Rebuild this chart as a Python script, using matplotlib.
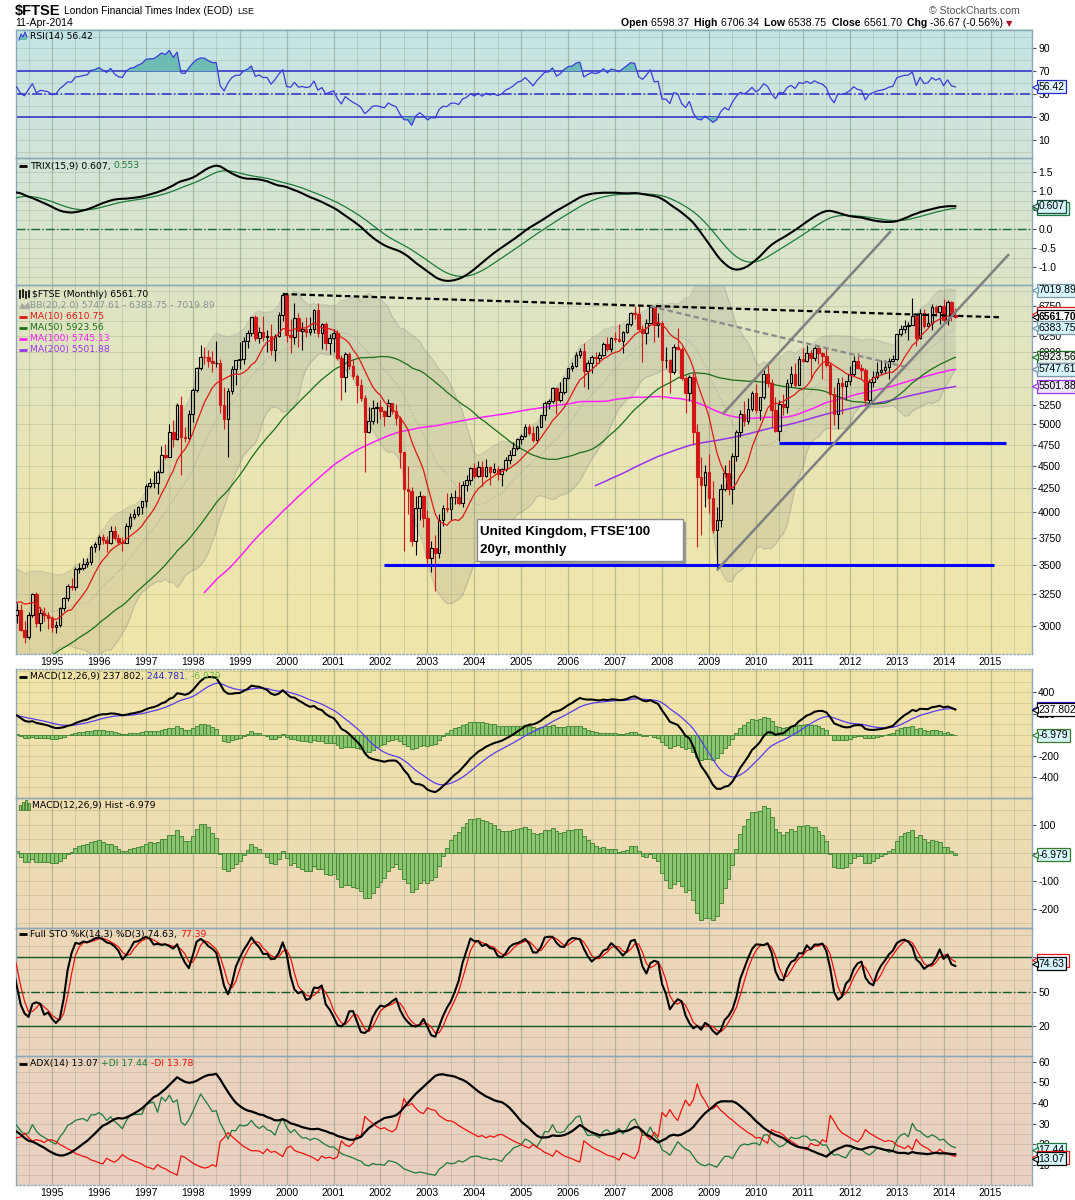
import numpy as np
import pandas as pd
import matplotlib
matplotlib.use("Agg")
import matplotlib.pyplot as plt
from matplotlib.patches import Rectangle
from matplotlib.transforms import offset_copy

plt.rcParams["font.family"] = ["Liberation Sans", "DejaVu Sans"]

# FTSE 100 monthly closes, Jan 1990 .. Apr 2014 (early years only feed the long MAs)
close = [
    2337.3, 2255.4, 2247.9, 2103.4, 2345.1, 2374.6, 2326.2, 2162.8, 1990.2, 2050.3, 2149.4, 2143.5,
    2170.3, 2380.9, 2456.5, 2486.2, 2499.5, 2414.8, 2588.8, 2645.7, 2621.7, 2566.0, 2420.2, 2493.1,
    2571.2, 2562.1, 2440.1, 2654.1, 2707.6, 2521.2, 2399.6, 2312.6, 2553.0, 2658.3, 2778.8, 2846.5,
    2807.2, 2868.0, 2878.7, 2813.1, 2840.7, 2900.0, 2926.5, 3100.0, 3037.5, 3171.0, 3166.9, 3418.4,
    3491.8, 3328.1, 3086.4, 3125.3, 2970.5, 2919.2, 3082.6, 3251.3, 3026.3, 3097.4, 3081.4, 3065.5,
    2991.6, 3009.3, 3137.9, 3216.7, 3319.4, 3314.6, 3463.3, 3477.8, 3508.2, 3529.1, 3664.3, 3689.3,
    3759.3, 3727.6, 3699.7, 3817.9, 3747.8, 3711.0, 3703.2, 3867.6, 3953.7, 3979.1, 4058.0, 4118.5,
    4275.8, 4308.3, 4312.9, 4436.0, 4621.3, 4604.6, 4907.5, 4817.5, 5244.2, 4842.3, 4831.8, 5135.5,
    5458.5, 5767.3, 5932.2, 5928.3, 5870.7, 5832.5, 5837.0, 5249.4, 5064.4, 5438.4, 5743.9, 5882.6,
    5896.0, 6175.1, 6295.3, 6552.2, 6226.2, 6318.5, 6231.9, 6246.4, 6029.8, 6255.7, 6597.2, 6930.2,
    6268.5, 6232.6, 6540.2, 6327.4, 6359.3, 6312.7, 6365.3, 6672.7, 6294.2, 6438.4, 6142.2, 6222.5,
    6297.5, 5917.9, 5633.7, 5966.9, 5796.1, 5642.5, 5529.1, 5345.0, 4903.4, 5039.7, 5203.6, 5217.4,
    5164.8, 5101.0, 5271.8, 5165.6, 5085.1, 4656.4, 4246.2, 4227.3, 3721.8, 4039.7, 4169.4, 3940.4,
    3567.4, 3655.6, 3613.3, 3926.0, 4048.1, 4031.2, 4157.0, 4161.1, 4091.3, 4287.6, 4342.6, 4476.9,
    4390.7, 4492.2, 4385.7, 4489.7, 4430.7, 4464.1, 4413.1, 4459.3, 4570.8, 4624.2, 4703.2, 4814.3,
    4852.3, 4968.5, 4894.4, 4801.7, 4964.0, 5113.2, 5282.3, 5296.9, 5477.7, 5317.3, 5423.2, 5618.8,
    5760.3, 5791.5, 5964.6, 6023.1, 5723.8, 5833.4, 5928.3, 5906.1, 5960.8, 6129.2, 6048.8, 6220.8,
    6203.1, 6171.5, 6308.0, 6449.2, 6621.4, 6607.9, 6360.1, 6303.3, 6466.8, 6721.6, 6432.5, 6456.9,
    5879.8, 5884.3, 5702.1, 6087.3, 6053.5, 5625.9, 5411.9, 5636.6, 4902.5, 4377.3, 4288.0, 4434.2,
    4149.6, 3830.1, 3926.1, 4243.7, 4417.9, 4249.2, 4608.4, 4908.9, 5133.9, 5044.5, 5190.7, 5412.9,
    5188.5, 5354.5, 5679.6, 5553.3, 5188.4, 4916.9, 5258.0, 5225.2, 5548.6, 5675.2, 5528.3, 5899.9,
    5862.9, 5994.0, 5908.8, 6069.9, 5990.0, 5945.7, 5815.2, 5394.5, 5128.5, 5544.2, 5505.4, 5572.3,
    5681.6, 5871.5, 5768.5, 5737.8, 5320.9, 5571.1, 5635.3, 5711.5, 5742.1, 5782.7, 5866.8, 5897.8,
    6276.9, 6360.8, 6411.7, 6430.1, 6583.1, 6215.5, 6621.1, 6412.9, 6462.2, 6731.4, 6650.6, 6749.1,
    6510.4, 6809.7, 6598.4, 6561.7,
]
# monthly highs / lows, Jan 1992 .. Apr 2014 (open = previous close)
high = [
    2590, 2600, 2580, 2680, 2740, 2710, 2530, 2420, 2580, 2700, 2800, 2860,
    2880, 2903, 2957, 2897, 2874, 2910, 2942, 3116, 3110, 3180, 3210, 3440,
    3520, 3520, 3360, 3180, 3170, 3040, 3110, 3260, 3270, 3150, 3150, 3110,
    3080, 3040, 3150, 3230, 3340, 3390, 3480, 3520, 3560, 3560, 3680, 3710,
    3780, 3790, 3770, 3860, 3860, 3790, 3760, 3890, 3990, 4030, 4070, 4120,
    4300, 4360, 4440, 4450, 4730, 4760, 5000, 5050, 5280, 5367, 4970, 5180,
    5480, 5780, 6105, 6075, 6040, 6020, 6180, 5900, 5500, 5480, 5800, 5890,
    6150, 6240, 6350, 6560, 6600, 6400, 6580, 6350, 6450, 6280, 6640, 6950,
    6950, 6530, 6800, 6620, 6480, 6560, 6560, 6700, 6800, 6460, 6480, 6290,
    6360, 6340, 5960, 6000, 6000, 5900, 5680, 5600, 5380, 5220, 5320, 5290,
    5320, 5190, 5330, 5280, 5260, 5100, 4660, 4500, 4270, 4170, 4220, 4180,
    4020, 3720, 3780, 3980, 4080, 4200, 4200, 4230, 4320, 4330, 4400, 4490,
    4530, 4560, 4560, 4580, 4500, 4530, 4500, 4480, 4600, 4680, 4780, 4830,
    4880, 5000, 5000, 4980, 4990, 5120, 5300, 5330, 5490, 5500, 5560, 5640,
    5770, 5860, 6000, 6070, 6140, 5880, 5960, 6000, 6000, 6160, 6240, 6240,
    6320, 6450, 6330, 6460, 6640, 6750, 6740, 6420, 6520, 6751, 6740, 6620,
    6500, 6080, 5900, 6130, 6380, 6080, 5650, 5670, 5690, 5000, 4600, 4510,
    4640, 4330, 4060, 4300, 4510, 4570, 4650, 4930, 5180, 5300, 5340, 5440,
    5530, 5360, 5740, 5830, 5600, 5360, 5310, 5400, 5600, 5800, 5840, 5950,
    6060, 6105, 6030, 6100, 6090, 6000, 6060, 5850, 5500, 5620, 5630, 5580,
    5800, 5950, 5990, 5820, 5770, 5610, 5720, 5860, 5880, 5890, 5920, 5960,
    6280, 6420, 6510, 6470, 6876, 6600, 6700, 6700, 6620, 6780, 6760, 6760,
    6870, 6840, 6830, 6706.34,
]
low = [
    2460, 2530, 2390, 2430, 2630, 2500, 2330, 2280, 2280, 2510, 2620, 2730,
    2738, 2790, 2845, 2770, 2780, 2810, 2837, 2920, 2990, 3020, 3080, 3160,
    3390, 3300, 3050, 3020, 2960, 2876, 2900, 3070, 2990, 2960, 3040, 2980,
    2954, 2950, 2990, 3120, 3200, 3290, 3290, 3430, 3460, 3480, 3500, 3620,
    3640, 3690, 3620, 3690, 3730, 3690, 3630, 3700, 3840, 3930, 3960, 3980,
    4050, 4250, 4260, 4190, 4420, 4580, 4600, 4720, 4800, 4400, 4780, 4800,
    5030, 5420, 5740, 5820, 5780, 5700, 5780, 5150, 4940, 4599, 5400, 5520,
    5750, 5830, 6060, 6250, 6180, 6140, 6180, 6010, 5960, 5870, 6240, 6500,
    6150, 5990, 6120, 6080, 6040, 6240, 6270, 6300, 6240, 6050, 6040, 5970,
    6000, 5880, 5310, 5430, 5750, 5600, 5270, 5300, 4434, 4890, 5000, 5020,
    5070, 4980, 5100, 5130, 4990, 4480, 3630, 3980, 3670, 3590, 3920, 3850,
    3490, 3440, 3277, 3560, 3860, 4000, 3920, 4090, 4080, 4060, 4220, 4290,
    4360, 4370, 4280, 4380, 4290, 4420, 4340, 4280, 4440, 4520, 4620, 4690,
    4760, 4840, 4870, 4780, 4770, 4960, 5050, 5200, 5270, 5130, 5290, 5400,
    5610, 5720, 5780, 5920, 5500, 5460, 5690, 5800, 5840, 5940, 6020, 6000,
    6150, 6150, 5990, 6300, 6410, 6520, 6330, 5860, 6130, 6440, 6150, 6230,
    5330, 5760, 5410, 5680, 6030, 5590, 5150, 5300, 4760, 3665, 3780, 4050,
    3990, 3800, 3460, 3850, 4220, 4180, 4090, 4560, 4840, 4980, 5000, 5170,
    5140, 5050, 5330, 5500, 4960, 4900, 4790, 5120, 5140, 5500, 5500, 5520,
    5850, 5850, 5600, 5870, 5830, 5600, 5780, 4791, 4990, 4940, 5130, 5320,
    5520, 5650, 5750, 5600, 5250, 5260, 5500, 5600, 5680, 5690, 5600, 5860,
    5890, 6250, 6300, 6190, 6420, 6093, 6200, 6380, 6400, 6350, 6580, 6440,
    6470, 6420, 6500, 6538.75,
]
year_labels = [str(y) for y in range(1995, 2016)]

# hand-drawn annotations (month index from Jan 1995, price)
black_trend = ([59, 243], [6952, 6554])
grey_trend = ([153, 218], [6740, 5784])
channel_low = ([170.3, 244.5], [3466, 7673])
channel_high = ([171.7, 214.3], [5141, 8134])
support_3500 = ([85, 241], [3500, 3500])
support_4765 = ([186, 244], [4765, 4765])

# values printed on the chart
last = dict(rsi=56.42, trix=0.607, close=6561.70, ma10=6610.75, ma50=5923.56, ma100=5745.13,
            ma200=5501.88, bb_lo=5747.61, bb_mid=6383.75, bb_hi=7019.89, macd=237.802,
            macd_sig=244.781, hist=-6.979, k=74.63, d=77.39, adx=13.07, pdi=17.44, ndi=13.78)

# ---- indicators ----
HL0 = 24  # first month with high/low (Jan 1992)
c = pd.Series(close, dtype=float)
n = len(c)
m = np.arange(n) - 60  # months from Jan 1995
o = c.shift(1)
h = pd.Series(np.nan, index=c.index)
l = pd.Series(np.nan, index=c.index)
h.iloc[HL0:] = high
l.iloc[HL0:] = low

ma10 = c.rolling(10).mean()
ma50 = c.rolling(50).mean()
ma100 = c.rolling(100).mean()
ma200 = c.rolling(200).mean()
bb_mid = c.rolling(20).mean()
bb_sd = c.rolling(20).std(ddof=0)
bb_hi = bb_mid + 2 * bb_sd
bb_lo = bb_mid - 2 * bb_sd

d1 = c.diff()
ag = d1.clip(lower=0).ewm(alpha=1 / 14, adjust=False).mean()
al = (-d1.clip(upper=0)).ewm(alpha=1 / 14, adjust=False).mean()
rsi = 100 - 100 / (1 + ag / al)

e3 = c.ewm(span=15, adjust=False).mean().ewm(span=15, adjust=False).mean().ewm(span=15, adjust=False).mean()
trix = e3.pct_change() * 100
trix_sig = trix.ewm(span=9, adjust=False).mean()

macd = c.ewm(span=12, adjust=False).mean() - c.ewm(span=26, adjust=False).mean()
macd_sig = macd.ewm(span=9, adjust=False).mean()
hist = macd - macd_sig

hh = h.rolling(14).max()
ll = l.rolling(14).min()
fast_k = 100 * (c - ll) / (hh - ll)
sto_k = fast_k.rolling(3).mean()
sto_d = sto_k.rolling(3).mean()

# ADX, Wilder style
hs, ls, cs = h.values[HL0:], l.values[HL0:], c.values[HL0:]
tr = np.maximum.reduce([hs[1:] - ls[1:], np.abs(hs[1:] - cs[:-1]), np.abs(ls[1:] - cs[:-1])])
upm = hs[1:] - hs[:-1]
dnm = ls[:-1] - ls[1:]
pdm = np.where((upm > dnm) & (upm > 0), upm, 0.0)
ndm = np.where((dnm > upm) & (dnm > 0), dnm, 0.0)


def wilder_sum(x, k=14):
    out = np.full(len(x), np.nan)
    out[k - 1] = x[:k].sum()
    for i in range(k, len(x)):
        out[i] = out[i - 1] - out[i - 1] / k + x[i]
    return out


tr14 = wilder_sum(tr)
pdi = 100 * wilder_sum(pdm) / tr14
ndi = 100 * wilder_sum(ndm) / tr14
dx = 100 * np.abs(pdi - ndi) / (pdi + ndi)
adx = np.full(len(dx), np.nan)
adx[26] = np.nanmean(dx[13:27])
for i in range(27, len(dx)):
    adx[i] = (adx[i - 1] * 13 + dx[i]) / 14
madx = m[HL0 + 1:]

# ---- figure ----
WPX, HPX = 1075, 1200
X0, X1 = 16, 1032
fig = plt.figure(figsize=(WPX / 100, HPX / 100), dpi=100)

bg = fig.add_axes([0, 0, 1, 1], zorder=0)
rows = np.arange(HPX) + 0.5
sy = [29, 158, 285, 470, 654, 669, 798, 927, 1056, 1185]
sc = np.array([(196, 228, 228), (210, 229, 216), (221, 228, 198), (233, 229, 180), (241, 230, 168),
               (241, 229, 168), (238, 222, 176), (237, 217, 184), (235, 212, 190), (233, 208, 193)]) / 255
grad = np.ones((HPX, 1, 3))
for ch in range(3):
    grad[:, 0, ch] = np.interp(rows, sy, sc[:, ch])
grad[(rows < 29.5) | (rows > 1185) | ((rows > 654) & (rows < 669))] = 1
bg.imshow(grad, extent=(X0, X1, HPX, 0), aspect="auto", interpolation="bilinear")
bg.set_xlim(0, WPX)
bg.set_ylim(HPX, 0)
bg.axis("off")

XL = (-9.2, 250.6)
MINOR = (0.3, 0.4, 0.3, 0.17)


def panel(top, bottom):
    ax = fig.add_axes([X0 / WPX, 1 - bottom / HPX, (X1 - X0) / WPX, (bottom - top) / HPX], zorder=2)
    ax.set_facecolor("none")
    ax.set_xlim(*XL)
    for s in ax.spines.values():
        s.set_color("#8ea8b8")
        s.set_linewidth(1)
    ax.yaxis.tick_right()
    ax.tick_params(axis="y", direction="out", length=3, width=0.8, color="#555555", labelsize=7.5, pad=1.5)
    ax.tick_params(axis="x", length=0, labelsize=7.5, pad=2.5)
    ax.set_xticks(np.arange(0, 252, 12))
    ax.set_xticklabels([])
    for k in range(-12, 252, 6):
        major = k % 12 == 0
        ax.axvline(k, color=(0.3, 0.4, 0.3, 0.32 if major else 0.17), lw=0.9 if major else 0.7, zorder=0)
    return ax


def hgrid(ax, vals):
    for v in vals:
        ax.axhline(v, color=MINOR, lw=0.7, zorder=0)


def yticks(ax, vals, labels):
    # tick marks at every value, label text only where the chart shows one
    ax.set_yticks(vals, labels)


def tag(ax, val, txt, edge, face="#d6f6fb", bold=False):
    trf = ax.get_yaxis_transform()
    ax.annotate(txt, xy=(1, val), xycoords=trf, xytext=(4.8, 0), textcoords="offset points",
                ha="left", va="center", fontsize=7.5, fontweight="bold" if bold else "normal",
                bbox=dict(boxstyle="square,pad=0.15", fc=face, ec=edge, lw=0.9),
                annotation_clip=False, zorder=6)
    ax.plot([1], [val], marker="<", ms=4, mfc=face, mec=edge, mew=0.8,
            transform=offset_copy(trf, fig=fig, x=3, y=0, units="dots"), clip_on=False, zorder=6)


def back_tag(ax, val, nchar, edge, face="white"):
    # a value tag that sits behind another one: only its edge shows
    tag(ax, val, "\u2007" * nchar, edge, face)


# RSI
ax = panel(29.5, 158)
ax.set_ylim(-5.6, 106.5)
hgrid(ax, range(0, 101, 10))
yticks(ax, [10, 30, 50, 70, 90], ["10", "30", "50", "70", "90"])
for v in (70, 30):
    ax.axhline(v, color="#2a2acc", lw=1.1, zorder=1)
ax.axhline(50, color="#2a2acc", lw=1.1, ls="-.", zorder=1)
ax.fill_between(m, rsi, 70, where=rsi >= 70, interpolate=True, color="#6dbcb4", lw=0, zorder=2)
ax.fill_between(m, rsi, 30, where=rsi <= 30, interpolate=True, color="#6dbcb4", lw=0, zorder=2)
ax.plot(m, rsi, color="#3b3bdb", lw=0.9, zorder=3)
tag(ax, last["rsi"], "56.42", "#2a2acc", "#e2f2ff")

# TRIX
ax = panel(158, 285)
ax.set_ylim(-1.47, 1.88)
hgrid(ax, np.arange(-1.25, 1.8, 0.25))
yticks(ax, [-1.0, -0.5, 0.0, 0.5, 1.0, 1.5], ["-1.0", "-0.5", "0.0", "", "1.0", "1.5"])
ax.axhline(0, color="#1a6a3a", lw=1.0, ls="-.", zorder=1)
ax.plot(m, trix_sig, color="#1d7a3a", lw=0.9, zorder=3)
ax.plot(m, trix, color="black", lw=1.5, zorder=3)
back_tag(ax, 0.553, 5, "#1d7a3a", "#d6f6fb")
tag(ax, last["trix"], "0.607", "#1a4a3a")

# price
ax = panel(285, 654)
ax.set_yscale("log")
ax.set_ylim(2795, 7113)
pticks = list(range(3000, 7001, 250))
hidden = {7000, 6500, 5750, 5500}
hgrid(ax, [2750] + pticks)
yticks(ax, pticks, ["" if t in hidden else str(t) for t in pticks])
ax.set_yticks([], minor=True)
ax.spines["bottom"].set_linestyle(":")
ax.set_xticklabels(year_labels)
ax.fill_between(m, bb_lo, bb_hi, color=(0.5, 0.5, 0.45, 0.17), lw=0, zorder=1)
ax.plot(m, bb_hi, color=(0.5, 0.5, 0.5, 0.3), lw=0.8, zorder=1)
ax.plot(m, bb_lo, color=(0.5, 0.5, 0.5, 0.3), lw=0.8, zorder=1)
ax.plot(m, bb_mid, color=(0.6, 0.6, 0.6, 0.6), lw=0.8, ls=":", zorder=1)
ax.plot(m, ma200, color="#9933ee", lw=1.1, zorder=2)
ax.plot(m, ma100, color="#ff22ff", lw=1.1, zorder=2)
ax.plot(m, ma50, color="#1a6e1a", lw=0.9, zorder=2)
ax.plot(m, ma10, color="#e01818", lw=0.9, zorder=4)

vis = np.where(m >= -11)[0]
ov_, cv = o.values[vis], c.values[vis]
hv, lv, mv = h.values[vis], l.values[vis], m[vis]
up = cv >= ov_
top = np.maximum(ov_, cv)
bot = np.minimum(ov_, cv)
red = "#d01818"
cols = np.where(up, "black", red)
ax.vlines(mv, top, hv, colors=cols, lw=0.8, zorder=3)
ax.vlines(mv, lv, bot, colors=cols, lw=0.8, zorder=3)
for x, b, t, u in zip(mv, bot, top, up):
    ax.add_patch(Rectangle((x - 0.33, b), 0.66, t - b, fc="none" if u else red,
                           ec="black" if u else red, lw=0.8, zorder=3))

ax.plot(*support_3500, color="#0000ff", lw=2.2, zorder=5, solid_capstyle="butt")
ax.plot(*support_4765, color="#0000ff", lw=2.2, zorder=5, solid_capstyle="butt")
ax.plot(*black_trend, color="black", lw=1.6, dashes=(2.5, 1.5), zorder=5)
ax.plot(*grey_trend, color="#8a8a8a", lw=1.6, dashes=(2.5, 1.5), zorder=5)
ax.plot(*channel_low, color="#808080", lw=1.8, zorder=5, clip_on=False)
ax.plot(*channel_high, color="#808080", lw=1.8, zorder=5, clip_on=False)

tag(ax, last["bb_hi"], "7019.89", "#7a9aa8")
back_tag(ax, last["ma10"], 7, "#e01818")
tag(ax, last["close"], "6561.70", "black", "white", bold=True)
tag(ax, last["bb_mid"], "6383.75", "#7a9aa8")
tag(ax, last["ma50"], "5923.56", "#1a6e1a", "#e4f4ea")
back_tag(ax, last["ma100"], 7, "#ff22ff", "#f4e4f4")
tag(ax, last["bb_lo"], "5747.61", "#7a9aa8")
tag(ax, last["ma200"], "5501.88", "#9933ee", "#eee4f8")

# MACD
ax = panel(669, 798)
ax.set_ylim(-600, 622)
hgrid(ax, range(-500, 601, 100))
yticks(ax, [-400, -200, 0, 200, 400], ["-400", "-200", "", "200", "400"])
ax.spines["top"].set_linestyle(":")
ax.bar(m, hist, width=1.0, color="#8cc56f", edgecolor="#4a8a3a", lw=0.7, zorder=2)
ax.plot(m, macd_sig, color="#5a3cf0", lw=0.9, zorder=3)
ax.plot(m, macd, color="black", lw=1.5, zorder=3)
back_tag(ax, last["macd_sig"], 7, "#3322dd")
tag(ax, last["macd"], "237.802", "black", "white")
tag(ax, last["hist"], "-6.979", "#3a7a2a")

# MACD histogram
ax = panel(798, 927.5)
ax.set_ylim(-265, 194)
hgrid(ax, range(-250, 151, 50))
yticks(ax, [-200, -100, 0, 100], ["-200", "-100", "", "100"])
ax.bar(m, hist, width=1.0, color="#8cc56f", edgecolor="#4a8a3a", lw=0.7, zorder=2)
tag(ax, last["hist"], "-6.979", "#3a7a2a")

# Full stochastics
ax = panel(927.5, 1056)
ax.set_ylim(-6.2, 106.2)
hgrid(ax, range(0, 101, 10))
yticks(ax, [20, 50, 80], ["20", "50", ""])
for v in (80, 20):
    ax.axhline(v, color="#0e5a2a", lw=1.0, zorder=1)
ax.axhline(50, color="#0e5a2a", lw=1.0, ls="-.", zorder=1)
ax.plot(m, sto_d, color="#ee1111", lw=0.9, zorder=3)
ax.plot(m, sto_k, color="black", lw=1.5, zorder=3)
back_tag(ax, last["d"], 5, "#ee1111")
tag(ax, last["k"], "74.63", "black")

# ADX
ax = panel(1056, 1185)
ax.set_ylim(0.3, 62.8)
hgrid(ax, range(5, 61, 5))
yticks(ax, [10, 20, 30, 40, 50, 60], ["10", "20", "30", "40", "50", "60"])
ax.spines["bottom"].set_linestyle(":")
ax.set_xticklabels(year_labels)
ax.plot(madx, pdi, color="#1d7a3a", lw=0.9, zorder=3)
ax.plot(madx, ndi, color="#ee1111", lw=0.9, zorder=3)
ax.plot(madx, adx, color="black", lw=1.6, zorder=3)
tag(ax, last["pdi"], "17.44", "#1d7a3a")
back_tag(ax, last["ndi"], 5, "#ee1111")
tag(ax, last["adx"], "13.07", "black")

# ---- overlay: header, legends, note box ----
ov = fig.add_axes([0, 0, 1, 1], zorder=10)
ov.set_xlim(0, WPX)
ov.set_ylim(HPX, 0)
ov.axis("off")
rend = fig.canvas.get_renderer()


def seq_text(x, y, parts, size=6.7, family="DejaVu Sans"):
    for s, col, wt in parts:
        t = ov.text(x, y, s, color=col, fontsize=size, fontweight=wt, family=family,
                    va="center", ha="left", parse_math=False)
        x += t.get_window_extent(rend).width
    return x


def dash(y, col, x0=19, x1=27, lw=2):
    ov.plot([x0, x1], [y, y], color=col, lw=lw, solid_capstyle="butt")


x = seq_text(15, 10.5, [("$FTSE", "black", "bold")], size=10.5, family="Liberation Sans")
x = seq_text(x + 4, 11, [("London Financial Times Index (EOD)", "black", "normal")], size=7.4,
             family="Liberation Sans")
seq_text(x + 4, 11.5, [("LSE", "black", "normal")], size=6.4, family="Liberation Sans")
seq_text(15, 23.5, [("11-Apr-2014", "black", "normal")], size=7.6, family="Liberation Sans")
ov.text(1020, 10.5, "\u00a9 StockCharts.com", ha="right", va="center", fontsize=7.6, color="#555555")
x = seq_text(621, 23.5, [("Open ", "black", "bold"), ("6598.37  ", "black", "normal"),
                         ("High ", "black", "bold"), ("6706.34  ", "black", "normal"),
                         ("Low ", "black", "bold"), ("6538.75  ", "black", "normal"),
                         ("Close ", "black", "bold"), ("6561.70  ", "black", "normal"),
                         ("Chg ", "black", "bold"), ("-36.67 (-0.56%)", "black", "normal")],
             size=7.6, family="Liberation Sans")
ov.text(x + 2, 23.5, "\u25bc", color="#b0102a", fontsize=6, va="center", ha="left", family="DejaVu Sans")

# RSI legend with a little mountain icon
ov.fill([19, 21, 23, 25, 27, 27, 19], [40, 34, 37, 32, 37, 40, 40], color="#6dbcb4", lw=0)
ov.plot([19, 21, 23, 25, 27], [40, 34, 37, 32, 37], color="#3b3bdb", lw=0.8)
seq_text(30, 36.5, [("RSI(14) 56.42", "black", "normal")])

dash(166, "black")
seq_text(30, 166, [("TRIX(15,9) 0.607, ", "black", "normal"), ("0.553", "#1d7a3a", "normal")])

for xi, yb, yt in ((20, 298, 291), (23, 297, 290), (26, 298, 292), (29, 297, 291)):
    ov.plot([xi, xi], [yb, yt], color="black", lw=1.2)
seq_text(32, 294.3, [("$FTSE (Monthly) 6561.70", "black", "normal")])
ov.fill([19, 22, 25, 28, 30, 30, 19], [309, 303, 306, 302, 306, 309, 309], color="#a8aca0", lw=0)
seq_text(30, 305.3, [("BB(20,2.0) 5747.61 - 6383.75 - 7019.89", "#8a9494", "normal")])
for yy, col, txt in ((316.7, "#e01818", "MA(10) 6610.75"), (327.7, "#1a6e1a", "MA(50) 5923.56"),
                     (338.7, "#ff22ff", "MA(100) 5745.13"), (349.7, "#9933ee", "MA(200) 5501.88")):
    dash(yy, col)
    seq_text(30, yy, [(txt, col, "normal")])

dash(676.7, "black")
seq_text(30, 676.7, [("MACD(12,26,9) 237.802", "black", "normal"), (", 244.781", "#2a2acc", "normal"),
                     (", -6.979", "#66bb44", "normal")])

for xi, yt in ((20, 805), (23, 802), (26, 800), (29, 803)):
    ov.add_patch(Rectangle((xi - 1, yt), 2.2, 809.5 - yt, fc="#8cc56f", ec="#3a7a2a", lw=0.6))
seq_text(32, 805.3, [("MACD(12,26,9) Hist -6.979", "black", "normal")])

dash(934.3, "black")
seq_text(30, 934.3, [("Full STO %K(14,3) %D(3) 74.63, ", "black", "normal"), ("77.39", "#ee1111", "normal")])

dash(1063.7, "black")
seq_text(30, 1063.7, [("ADX(14) 13.07 ", "black", "normal"), ("+DI 17.44 ", "#1d7a3a", "normal"),
                      ("-DI 13.78", "#ee1111", "normal")])

# note box
ov.add_patch(Rectangle((480, 522), 206, 42, fc="#9a9a9a", ec="none"))
ov.add_patch(Rectangle((477, 519), 206, 42, fc="white", ec="#8a8a8a", lw=1))
ov.text(480, 532, "United Kingdom, FTSE'100", fontsize=9.6, fontweight="bold", va="center", ha="left")
ov.text(480, 550, "20yr, monthly", fontsize=9.6, fontweight="bold", va="center", ha="left")

fig.savefig("out.png", dpi=100)
